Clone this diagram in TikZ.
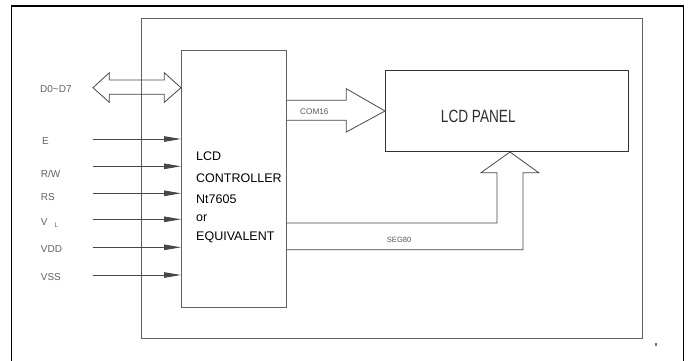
\documentclass[tikz,border=0pt]{standalone}
\usepackage{fontspec}
\setmainfont{Liberation Sans}
\usetikzlibrary{arrows.meta}
\begin{document}
\begin{tikzpicture}[x=1pt,y=-1pt,
  lbl/.style={font=\fontsize{10}{12}\selectfont, text=black!62, inner sep=0pt, anchor=base west},
  ctext/.style={font=\fontsize{12.5}{14}\selectfont, text=black, inner sep=0pt, anchor=base west},
  sig/.style={draw=black!72, line width=0.9pt, -{Triangle[length=17pt,width=5.5pt]}},
  boxline/.style={draw=black!62, line width=1pt, inner sep=0pt, fill=none},
  bus/.style={draw=black!72, line width=0.8pt, line join=miter}]
\useasboundingbox (0,0) rectangle (689,360);
\fill[white] (0,0) rectangle (689,360);
% outer frame (open at the bottom)
\draw[line width=1.2pt] (11.3,361) -- (11.3,6) -- (683.5,6) -- (683.5,361);
% inner frame
\node[boxline, anchor=north west, minimum width=501pt, minimum height=320pt] (frame) at (141,18) {};
% controller
\node[boxline, anchor=north west, minimum width=105pt, minimum height=257pt] (ctrl) at (181,50) {};
% LCD panel
\node[boxline, draw=black!80, anchor=north west, minimum width=243pt, minimum height=81pt] (panel) at (385,70) {};
\node[inner sep=0pt, text=black!82] (paneltext) at (478.3,116) {\scalebox{0.77}[1]{\fontsize{17.7}{20}\selectfont LCD PANEL}};
% controller text
\node[ctext] (t1) at (196,160) {LCD};
\node[ctext] (t2) at (196,182.3) {CONTROLLER};
\node[ctext] (t3) at (196,203.7) {Nt7605};
\node[ctext] (t4) at (196,221.7) {or};
\node[ctext] (t5) at (196,240.3) {EQUIVALENT};
% D0~D7 bidirectional bus
\coordinate (dtip) at (93,87.7);
\draw[bus] (dtip) -- (109.3,72.7) -- (109.3,80) -- (164.3,80) -- (164.3,72.7)
  -- (ctrl.west |- 0,87.7) -- (164.3,102.3) -- (164.3,94.3) -- (109.3,94.3)
  -- (109.3,102.3) -- cycle;
\node[lbl] (ld) at (40,92.7) {D0\textasciitilde D7};
% input signals
\coordinate (iE) at (92.7,139);
\coordinate (iRW) at (92.7,166.3);
\coordinate (iRS) at (92.7,193.3);
\coordinate (iVL) at (92.7,219.3);
\coordinate (iVDD) at (92.7,247.3);
\coordinate (iVSS) at (92.7,275);
\draw[sig] (iE) -- (ctrl.west |- iE);
\draw[sig] (iRW) -- (ctrl.west |- iRW);
\draw[sig] (iRS) -- (ctrl.west |- iRS);
\draw[sig] (iVL) -- (ctrl.west |- iVL);
\draw[sig] (iVDD) -- (ctrl.west |- iVDD);
\draw[sig] (iVSS) -- (ctrl.west |- iVSS);
\node[lbl] (lE) at (42,144.5) {E};
\node[lbl] (lRW) at (40.7,177.3) {R/W};
\node[lbl] (lRS) at (40.7,200) {RS};
\node[lbl] (lVL) at (40.7,225.3) {V\hspace{7pt}\raisebox{-2pt}{\fontsize{6.5}{7}\selectfont L}};
\node[lbl] (lVDD) at (40.7,252.7) {VDD};
\node[lbl] (lVSS) at (40.7,280.3) {VSS};
% COM16 bus
\draw[bus] (ctrl.east |- 0,100.3) -- (346.3,100.3) -- (346.3,88.7) -- (panel.west)
  -- (346.3,132) -- (346.3,120.3) -- (ctrl.east |- 0,120.3);
\node[inner sep=0pt, anchor=base west, text=black!65, font=\fontsize{8.2}{9}\selectfont] (lcom) at (300,114.7) {COM16};
% SEG80 bus
\draw[bus] (ctrl.east |- 0,223) -- (497,223) -- (497,172.7) -- (481,172.7)
  -- (panel.south -| 510,0) -- (538.7,172.7) -- (523,172.7) -- (523,249.7)
  -- (ctrl.east |- 0,249.7);
\node[inner sep=0pt, anchor=base west, text=black!65, font=\fontsize{7.6}{9}\selectfont] (lseg) at (386.7,242) {SEG80};
% small mark
\fill[black!55] (655,343.3) rectangle (657,345.5);
\end{tikzpicture}
\end{document}
